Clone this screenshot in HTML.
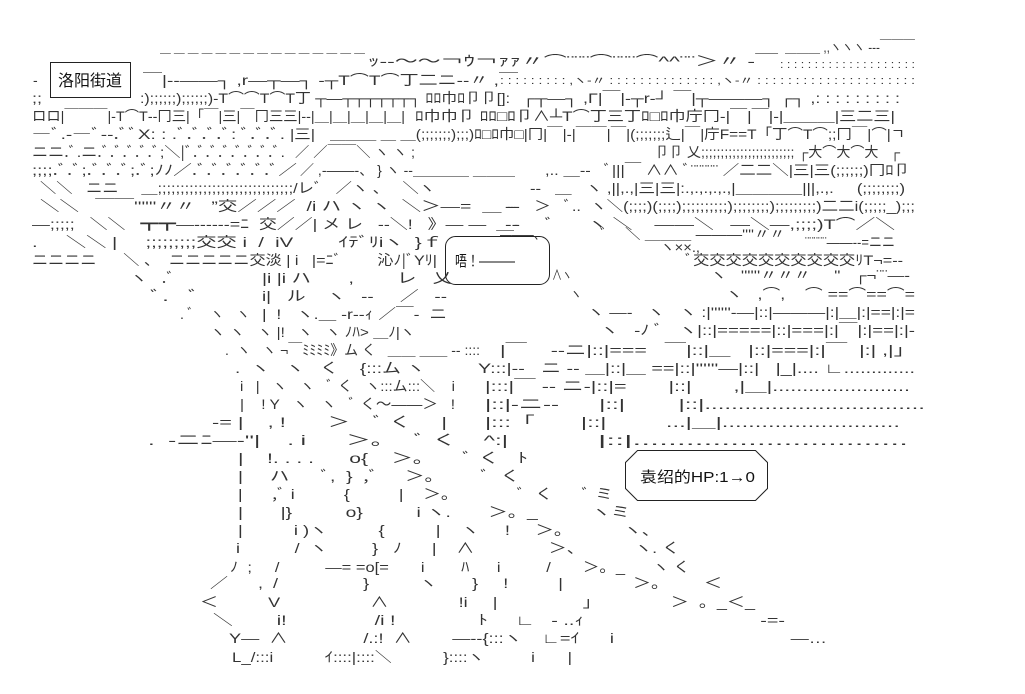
<!DOCTYPE html>
<html><head><meta charset="utf-8">
<style>
html,body{margin:0;padding:0;background:#fff;}
svg{display:block;}
text{font-family:"Liberation Sans","Noto Sans CJK JP",sans-serif;font-size:14px;fill:#333;white-space:pre;}
.s{font-size:11px;}
</style></head><body>
<svg width="1025" height="694" viewBox="0 0 1025 694" xmlns="http://www.w3.org/2000/svg" xml:space="preserve">
<rect width="1025" height="694" fill="#fff"/>
<rect x="50.5" y="62.5" width="80" height="35" fill="none" stroke="#222" stroke-width="1"/>
<text x="58" y="86" textLength="64" lengthAdjust="spacingAndGlyphs" style="font-size:16px;fill:#111">洛阳街道</text>
<text x="33" y="85">-</text>
<rect x="445.5" y="236.5" width="104" height="48" rx="10" fill="none" stroke="#222" stroke-width="1"/>
<text x="455" y="266" textLength="60" lengthAdjust="spacingAndGlyphs" style="font-size:15px;fill:#111">唔！―――</text>
<path d="M637.5 450.5 H755.5 L767.5 462.5 V488.5 L755.5 500.5 H637.5 L625.5 488.5 V462.5 Z" fill="none" stroke="#222" stroke-width="1"/>
<text x="640" y="482" textLength="115" lengthAdjust="spacingAndGlyphs" style="font-size:15px;fill:#111">袁绍的HP:1→0</text>

<text x="160" y="66" textLength="205" lengthAdjust="spacingAndGlyphs">￣ ￣ ￣ ￣ ￣ ￣ ￣ ￣ ￣ ￣ ￣ ￣ ￣ ￣ ￣</text>
<text x="368" y="66" textLength="410" lengthAdjust="spacingAndGlyphs">ｯ‐‐～～￢ｳ￢ｧｧ〃⌒¨¨¨⌒¨¨¨⌒^^¨¨＞〃 ‐￣</text>
<text x="785" y="52" textLength="130" lengthAdjust="spacingAndGlyphs">＿＿＿ ,,ヽヽヽ ‐‐‐￣￣￣</text>
<text class="s" x="780" y="68" textLength="135" lengthAdjust="spacingAndGlyphs">: : : : : : : : : : : : : : : : : : : :</text>
<text x="143" y="85" textLength="375" lengthAdjust="spacingAndGlyphs">￣|‐‐――┐ ,r―┬―┐ ‐┬T⌒T⌒丁二ニ‐‐〃 ,￣</text>
<text class="s" x="500" y="84" textLength="415" lengthAdjust="spacingAndGlyphs">: : : : : : : : : ,ヽ‐〃 : : : : : : : : : : : : : : ,ヽ‐〃 : : : : : : : : : : : : : : : : : : : : :</text>
<text x="32" y="103" textLength="10" lengthAdjust="spacingAndGlyphs">;;</text>
<text x="140" y="103" textLength="370" lengthAdjust="spacingAndGlyphs">:);;;;;;);;;;;;)‐T⌒⌒T⌒T丁 ┬―┬┬┬┬┬┬┐ ﾛﾛ巾ﾛ卩卩[]:</text>
<text x="522" y="103" textLength="378" lengthAdjust="spacingAndGlyphs">┌┬―┐ ,Γ|￣|‐┬r‐┘ ￣|┬―――┐ ┌┐ ,: : : : : : : : :</text>
<text x="32" y="121" textLength="373" lengthAdjust="spacingAndGlyphs">ロロ|￣￣￣|‐T⌒T‐‐冂三|「￣|三|￣冂三三|‐‐|＿|＿|＿|＿|＿|</text>
<text x="415" y="121" textLength="480" lengthAdjust="spacingAndGlyphs">ﾛ巾巾卩 ﾛﾛ□ﾛ卩∧┴T⌒丁三丁ﾛ□ﾛ巾庁冂‐|￣|￣|‐|＿＿＿|三二三|</text>
<text x="32" y="139" textLength="253" lengthAdjust="spacingAndGlyphs">―ﾞ.‐―ﾞ‐‐.ﾞﾞX: : .ﾞ.ﾞ.ﾞ.ﾞ: ﾞ.ﾞ.ﾞ.</text>
<text x="290" y="139" textLength="25" lengthAdjust="spacingAndGlyphs">|三|</text>
<text x="330" y="139" textLength="575" lengthAdjust="spacingAndGlyphs">＿＿＿ ＿ ＿(;;;;;;;);;;)ﾛ□ﾛ巾□|冂|￣|‐|￣￣|￣|(;;;;;;;辶|￣|庁F==T「丁⌒T⌒;;冂￣|⌒|ㄱ</text>
<text x="32" y="157" textLength="253" lengthAdjust="spacingAndGlyphs">ニニ.ﾞ.ニ.ﾞ.ﾞ.ﾞ.ﾞ.ﾞ;＼|ﾞ.ﾞ.ﾞ.ﾞ.ﾞ.ﾞ.ﾞ.ﾞ.</text>
<text x="295" y="157" textLength="120" lengthAdjust="spacingAndGlyphs">／ ／￣￣＼ ヽ ヽ ;</text>
<text x="655" y="157" textLength="245" lengthAdjust="spacingAndGlyphs">卩卩 乂;;;;;;;;;;;;;;;;;;;;;;;; ┌大⌒大⌒大   ┌</text>
<text x="32" y="175" textLength="265" lengthAdjust="spacingAndGlyphs">;;;;.ﾞ.ﾞ;.ﾞ.ﾞ.ﾞ;.ﾞ;ﾉﾉ／.ﾞ.ﾞ.ﾞ.ﾞ.ﾞ.ﾞ／</text>
<text x="300" y="175" textLength="215" lengthAdjust="spacingAndGlyphs">／ ,‐――‐、 } ヽ ‐‐＿＿＿＿ ＿＿＿</text>
<text x="545" y="175" textLength="365" lengthAdjust="spacingAndGlyphs">,.. ＿‐‐   ﾞ|||￣ ∧∧ ﾞ¨¨¨¨¨ ／二二＼|三|三(;;;;;;)冂ﾛ卩</text>
<text x="40" y="193" textLength="395" lengthAdjust="spacingAndGlyphs">＼＼   ニニ     ＿;;;;;;;;;;;;;;;;;;;;;;;;;;;;;;/レﾞ   ／ヽ 、   ＼ヽ</text>
<text x="530" y="193" textLength="375" lengthAdjust="spacingAndGlyphs">‐‐   ＿   ヽ ,||,.,|三|三|:.,.,.,.,.,|＿＿＿＿|||,.,.     (;;;;;;;;)</text>
<text x="40" y="211" textLength="480" lengthAdjust="spacingAndGlyphs">＼＼   ￣￣''''''〃〃   ”交／／／  /i ハ ヽ ヽ  ＼＞―=  ＿ ‐‐</text>
<text x="505" y="211" textLength="410" lengthAdjust="spacingAndGlyphs">‐‐    ＞   ﾞ..  ヽ＼(;;;;)(;;;;);;;;;;;;;;);;;;;;;;);;;;;;;;;)二二i(;;;;;_);;;</text>
<text x="32" y="229" textLength="488" lengthAdjust="spacingAndGlyphs">―;;;;;   ＼＼   ┳┳―‐‐‐‐‐‐=ﾆ  交／／| メ レ   ‐‐＼!   》― ―  ＿‐</text>
<text x="505" y="229" textLength="390" lengthAdjust="spacingAndGlyphs">‐‐     ﾞ      ヽ ＼    ――＼   ―＼―,;;;;)T⌒／＼</text>
<text x="32" y="247" textLength="410" lengthAdjust="spacingAndGlyphs">.     ＼＼ |     ;;;;;;;;;交交 i  /  iV        ｲﾃﾞﾘiヽ  }ｆ</text>
<text x="500" y="239" textLength="45" lengthAdjust="spacingAndGlyphs">―――、</text>
<text x="600" y="239" textLength="185" lengthAdjust="spacingAndGlyphs">ﾞ    ＼ ＿＿＿ ―――''''〃〃</text>
<text x="660" y="252" textLength="40" lengthAdjust="spacingAndGlyphs">ヽ××.,</text>
<text x="805" y="247" textLength="90" lengthAdjust="spacingAndGlyphs">¨¨¨¨¨――‐‐=ニニ</text>
<text x="32" y="265" textLength="405" lengthAdjust="spacingAndGlyphs">ニニニニ      ＼ 、  ニニニニニ交淡 | i   |=ﾆﾞ        沁ﾉ|ﾞYﾘ|</text>
<text x="685" y="265" textLength="218" lengthAdjust="spacingAndGlyphs">ﾞ交交交交交交交交交交ﾘT¬=‐‐</text>
<text x="130" y="283" textLength="45" lengthAdjust="spacingAndGlyphs">ヽ   .ﾞ</text>
<text x="262" y="283" textLength="190" lengthAdjust="spacingAndGlyphs">|i |i ハ       ,        レ   乂</text>
<text x="552" y="280" textLength="20" lengthAdjust="spacingAndGlyphs">∧ヽ</text>
<text x="710" y="280" textLength="200" lengthAdjust="spacingAndGlyphs">ヽ   ''''''〃〃〃     ''   ┌¬¨¨―‐</text>
<text x="150" y="301" textLength="50" lengthAdjust="spacingAndGlyphs">ﾞ.   ﾞ</text>
<text x="262" y="301" textLength="185" lengthAdjust="spacingAndGlyphs">i|   ル    ヽ   ‐‐     ／   ‐‐</text>
<text x="570" y="299" textLength="12" lengthAdjust="spacingAndGlyphs">ヽ</text>
<text x="725" y="299" textLength="190" lengthAdjust="spacingAndGlyphs">ヽ   ,⌒,    ⌒ ==⌒==⌒=</text>
<text x="180" y="319" textLength="70" lengthAdjust="spacingAndGlyphs">. ﾞ    ヽ   ヽ</text>
<text x="262" y="319" textLength="185" lengthAdjust="spacingAndGlyphs">|  !   ヽ.＿ ‐r‐‐ｨ ／￣‐  ニ</text>
<text x="587" y="317" textLength="328" lengthAdjust="spacingAndGlyphs">ヽ ―‐   ヽ   ヽ :|''''''‐―|::|―――|:|＿|:|==|:|=</text>
<text x="210" y="337" textLength="205" lengthAdjust="spacingAndGlyphs">ヽ ヽ   ヽ |!   ヽ   ヽ ﾉﾊ> ＿ﾉ|ヽ</text>
<text x="600" y="335" textLength="315" lengthAdjust="spacingAndGlyphs">ヽ   ‐ﾉ ﾞ   ヽ|::|=====|::|===|:|￣|:|==|:|‐</text>
<text x="225" y="355" textLength="255" lengthAdjust="spacingAndGlyphs">.  ヽ   ヽ ¬￣ﾐﾐﾐﾐ》ム く   ＿＿ ＿＿ ‐‐ ::::</text>
<text x="500" y="355" textLength="415" lengthAdjust="spacingAndGlyphs">|￣    ‐‐ニ|::|===   ￣|::|＿   |::|===|:|￣  |:| ,|」</text>
<text x="235" y="373" textLength="190" lengthAdjust="spacingAndGlyphs">.  ヽ   ヽ   く    {:::ム ヽ</text>
<text x="478" y="373" textLength="437" lengthAdjust="spacingAndGlyphs">Y:::|‐‐   ニ ‐‐ ＿|::|＿ ==|::|''''''―|::|   |_|.... ∟.............</text>
<text x="240" y="391" textLength="215" lengthAdjust="spacingAndGlyphs">i   |   ヽ   ヽ   ﾞ く   ヽ:::ム:::＼    i</text>
<text x="485" y="391" textLength="425" lengthAdjust="spacingAndGlyphs">|:::|￣ ‐‐ ニ‐|::|=       |::|       ,|＿|.......................</text>
<text x="240" y="409" textLength="215" lengthAdjust="spacingAndGlyphs">|    ! Y   ヽ   ヽ   ﾞ く～――＞   !</text>
<text x="485" y="409" textLength="440" lengthAdjust="spacingAndGlyphs">|::|‐ニ‐‐      |::|        |::|.................................</text>
<text x="212" y="427" textLength="235" lengthAdjust="spacingAndGlyphs">‐= |    , !       ＞    ﾞ く     |</text>
<text x="485" y="427" textLength="415" lengthAdjust="spacingAndGlyphs">|:::「       |::|         ...|＿|...........................</text>
<text x="148" y="445" textLength="360" lengthAdjust="spacingAndGlyphs">.  ‐ニﾆ―‐''|    . i      ＞。   ﾞ く    ^:|</text>
<text x="598" y="445" textLength="310" lengthAdjust="spacingAndGlyphs">|::|...............................</text>
<text x="238" y="463" textLength="290" lengthAdjust="spacingAndGlyphs">|    !. . . .      o{    ＞。     ﾞ く   ﾄ</text>
<text x="238" y="481" textLength="282" lengthAdjust="spacingAndGlyphs">|     ハ      ﾞ,  }  ,ﾞ     ＞。       ﾞ  く</text>
<text x="238" y="499" textLength="375" lengthAdjust="spacingAndGlyphs">|      ,ﾞ i          {          |    ＞。            ﾞ  く      ﾞ ミ</text>
<text x="238" y="517" textLength="392" lengthAdjust="spacingAndGlyphs">|       |}          o}          i ヽ.       ＞。_          ヽミ</text>
<text x="238" y="535" textLength="422" lengthAdjust="spacingAndGlyphs">|          i )ヽ          {          |    ヽ     !     ＞。          ヽ、</text>
<text x="236" y="553" textLength="444" lengthAdjust="spacingAndGlyphs">i           /  ヽ         }   ﾉ      |    ∧               ＞、          ヽ. く</text>
<text x="230" y="572" textLength="460" lengthAdjust="spacingAndGlyphs">ﾉ  ;     /          ―= =o[=       i        ﾊ      i          /       ＞。_      ヽ く</text>
<text x="210" y="588" textLength="512" lengthAdjust="spacingAndGlyphs">／      ,  /                 }          ヽ       }     !          |              ＞。       ＜</text>
<text x="200" y="607" textLength="555" lengthAdjust="spacingAndGlyphs">＜          V                  ∧              !i     |                 」              ＞  。_＜_</text>
<text x="213" y="625" textLength="572" lengthAdjust="spacingAndGlyphs">＼        i!                /i !               ﾄ     ∟   ‐ ..ｨ                                ‐=‐</text>
<text x="229" y="643" textLength="598" lengthAdjust="spacingAndGlyphs">Y―  ∧               /.:!  ∧        ―‐‐{:::ヽ    ∟=ｲ      i                                   ―…</text>
<text x="232" y="662" textLength="340" lengthAdjust="spacingAndGlyphs">L_/:::i           ｲ::::|::::＼           }::::ヽ          i       |</text>
</svg>
</body></html>
